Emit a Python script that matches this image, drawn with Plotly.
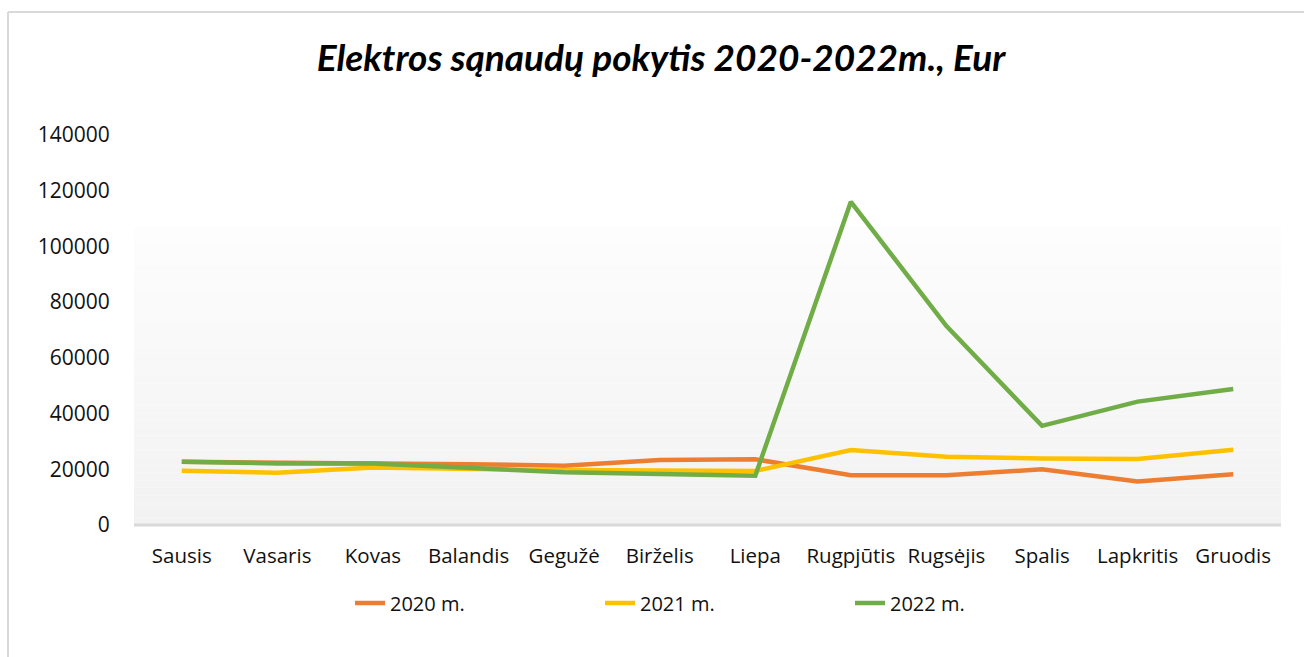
import plotly.graph_objects as go

months = ["Sausis", "Vasaris", "Kovas", "Balandis", "Gegužė", "Birželis",
          "Liepa", "Rugpjūtis", "Rugsėjis", "Spalis", "Lapkritis", "Gruodis"]
y2020 = [22700, 22400, 22500, 21800, 21300, 23300, 23600, 17900, 17900, 20000, 15600, 18200]
y2021 = [19500, 18800, 20600, 20100, 19700, 19600, 19400, 26900, 24500, 23900, 23700, 27000]
y2022 = [22700, 22100, 22100, 20300, 18900, 18300, 17700, 116000, 71400, 35600, 44300, 48800]
series_names = ["2020 m.", "2021 m.", "2022 m."]
colors = ["#ED7D31", "#FFC000", "#70AD47"]
title_text = "Elektros sąnaudų pokytis 2020-2022m., Eur"
y_ticks = [0, 20000, 40000, 60000, 80000, 100000, 120000, 140000]

W, H = 1304, 657
L, R, T, B = 134, 1304 - 1281, 135, 657 - 525
FONT = "Open Sans"

fig = go.Figure()
for name, vals, col in zip(series_names, [y2020, y2021, y2022], colors):
    fig.add_trace(go.Scatter(x=months, y=vals, name=name, mode="lines",
                             line=dict(color=col, width=4.5)))

shapes = []
n = 40
top = 0.764
for i in range(n):
    y0 = top * i / n
    y1 = top * (i + 1) / n
    frac = (i + 0.5) / n
    g = int(round(242 + (253 - 242) * frac))
    shapes.append(dict(type="rect", xref="paper", yref="paper", x0=0, x1=1,
                       y0=y0, y1=y1, fillcolor=f"rgb({g},{g},{g})",
                       line=dict(width=0), layer="below"))
shapes.append(dict(type="line", xref="paper", yref="paper", x0=0, x1=1, y0=0, y1=0,
                   line=dict(color="#d9d9d9", width=3), layer="below"))
px = lambda p: (p - L) / (W - L - R)
py = lambda p: (H - B - p) / (H - T - B)
shapes.append(dict(type="line", xref="paper", yref="paper", x0=px(8), x1=px(1320),
                   y0=py(12), y1=py(12), line=dict(color="#d9d9d9", width=2)))
shapes.append(dict(type="line", xref="paper", yref="paper", x0=px(8), x1=px(8),
                   y0=py(12), y1=py(670), line=dict(color="#d9d9d9", width=2)))

fig.update_layout(
    width=W, height=H,
    margin=dict(l=L, r=R, t=T, b=B),
    paper_bgcolor="white", plot_bgcolor="rgba(0,0,0,0)",
    title=dict(text="<b><i>" + title_text + "</i></b>", x=661 / W, xref="container",
               y=1 - 58 / H, yref="container", yanchor="middle", xanchor="center",
               font=dict(family="Lato", size=37, color="#000000")),
    font=dict(family=FONT, color="#111111"),
    shapes=shapes,
    showlegend=True,
    legend=dict(orientation="h", x=px(350), y=py(603), xanchor="left", yanchor="middle",
                entrywidth=205, entrywidthmode="pixels",
                font=dict(family=FONT, size=20, color="#111111"),
                bgcolor="rgba(0,0,0,0)"),
)
fig.update_xaxes(showgrid=False, zeroline=False, showline=False,
                 ticks="outside", ticklen=12, tickcolor="rgba(0,0,0,0)",
                 tickfont=dict(family=FONT, size=20.5, color="#111111"),
                 range=[-0.5, 11.5])
fig.update_yaxes(showgrid=False, zeroline=False, showline=False, range=[0, 140000],
                 tickvals=y_ticks, ticktext=[str(v) for v in y_ticks],
                 ticks="outside", ticklen=19, tickcolor="rgba(0,0,0,0)",
                 tickfont=dict(family=FONT, size=21, color="#111111"))

fig.write_html("out.html", config={"displayModeBar": False},
               post_script="document.body.style.margin='0';")
